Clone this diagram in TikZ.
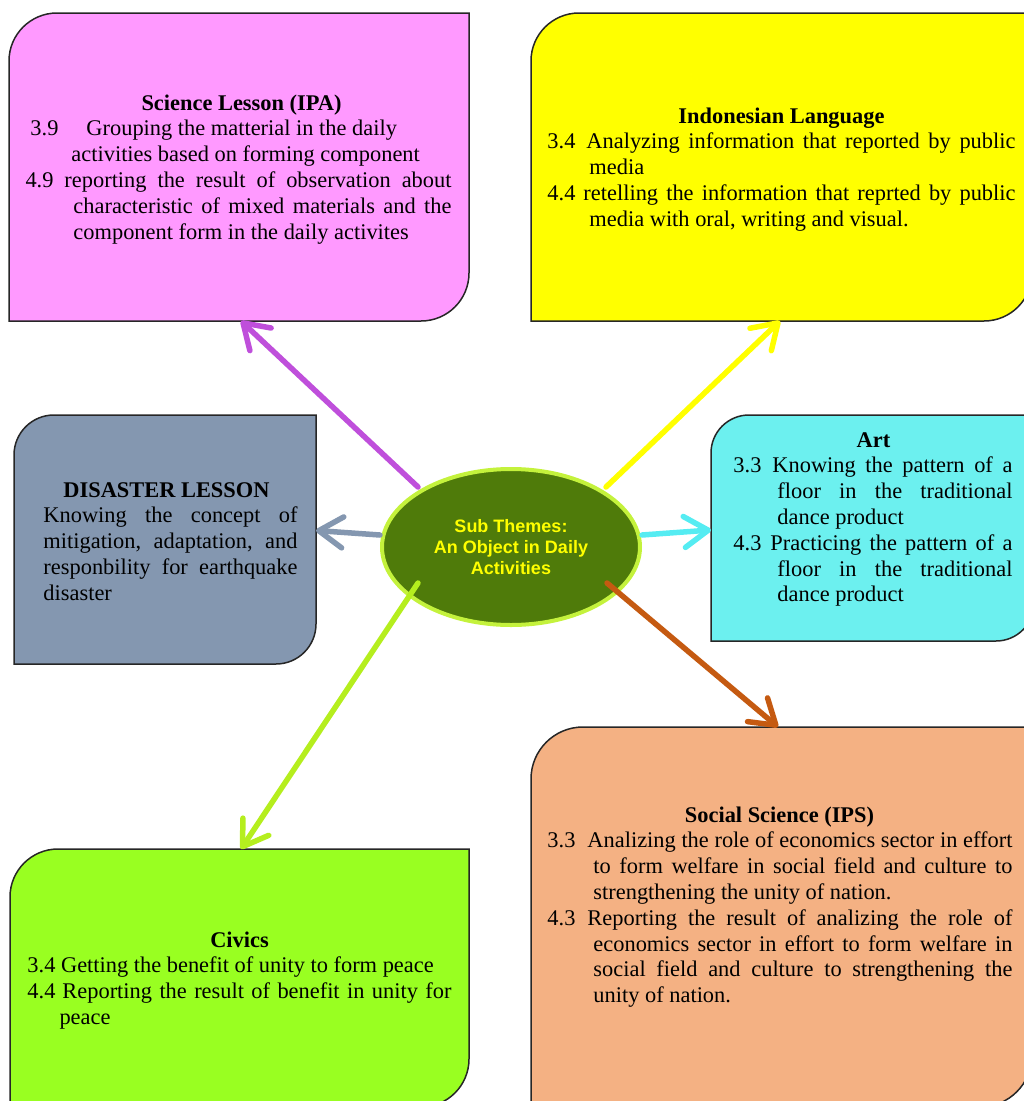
\documentclass[tikz,border=0pt]{standalone}
\usepackage{fontspec}
\setmainfont{Liberation Serif}
\newfontfamily\sansb{Liberation Sans}
\usetikzlibrary{arrows.meta,shapes.geometric,calc}

\definecolor{pinkc}{HTML}{FF99FF}
\definecolor{yelc}{HTML}{FFFF00}
\definecolor{grayc}{HTML}{8497B0}
\definecolor{cyanc}{HTML}{6CF0EF}
\definecolor{orc}{HTML}{F4B183}
\definecolor{grnc}{HTML}{99FF21}
\definecolor{apurple}{HTML}{BF4FDB}
\definecolor{ayellow}{HTML}{FFFF00}
\definecolor{agray}{HTML}{8497B0}
\definecolor{acyan}{HTML}{55ECF2}
\definecolor{aorange}{HTML}{C55A11}
\definecolor{agreen}{HTML}{B5EE1E}
\definecolor{ellb}{HTML}{C4F23C}
\definecolor{ellf}{HTML}{4F7B0A}
\definecolor{elltxt}{HTML}{FFFF00}

\newcommand\Sx{\rule[-7.8pt]{0pt}{25.8pt}}
\newcommand\At[2]{\rlap{\hspace*{#1pt}#2}}
\newcommand\Ct[2]{\rlap{\hspace*{#1pt}\makebox[0pt]{#2}}}
\newcommand\Jt[3]{\rlap{\hspace*{#1pt}\makebox[\dimexpr#2pt-#1pt\relax][s]{#3}}}

\newcommand\boxshape[3]{%
\path[boxline, fill=#3] (#1.south west) -- ([yshift=-#2pt]#1.north west)
 .. controls ([yshift={-0.4477*#2pt}]#1.north west) and ([xshift={0.4477*#2pt}]#1.north west) .. ([xshift=#2pt]#1.north west)
 -- (#1.north east) -- ([yshift=#2pt]#1.south east)
 .. controls ([yshift={0.4477*#2pt}]#1.south east) and ([xshift={-0.4477*#2pt}]#1.south east) .. ([xshift=-#2pt]#1.south east)
 -- cycle;}

\tikzset{
 anch/.style={rectangle, inner sep=0pt, outer sep=0pt, draw=none},
 boxline/.style={draw=black!85, line width=1.5pt},
 txt/.style={anchor=north west, inner sep=0pt, outer sep=0pt, align=left, font=\fontsize{22.4}{25.8}\selectfont},
 arr/.style={line width=5.5pt, line cap=round, -{Straight Barb[length=24pt,width=31pt,round]}},
}

\begin{document}
\begin{tikzpicture}[x=1pt, y=-1pt]
\useasboundingbox (0,0) rectangle (1024,1101);
\clip (0,0) rectangle (1024,1101);

% box frames (named)
\node[anch, minimum width=460pt, minimum height=308pt] (sci) at (239,167) {};
\node[anch, minimum width=501pt, minimum height=308pt] (ind) at (781.5,167) {};
\node[anch, minimum width=302pt, minimum height=249pt] (dis) at (165,539.5) {};
\node[anch, minimum width=323pt, minimum height=226pt] (art) at (872.5,528) {};
\node[anch, minimum width=501pt, minimum height=380pt] (soc) at (781.5,917) {};
\node[anch, minimum width=459pt, minimum height=258pt] (civ) at (239.5,978) {};

\boxshape{sci}{48}{pinkc}
\boxshape{ind}{48}{yelc}
\boxshape{dis}{40}{grayc}
\boxshape{art}{38}{cyanc}
\boxshape{soc}{52}{orc}
\boxshape{civ}{48}{grnc}

% texts
\node[txt] (scit) at (0,92) {\Sx\Ct{241}{\bfseries Science Lesson (IPA)}\\
\Sx\At{30}{3.9}\At{86}{Grouping the matterial in the daily}\\
\Sx\At{71}{activities based on forming component}\\
\Sx\At{25}{4.9}\Jt{64}{451}{reporting the result of observation about}\\
\Sx\Jt{73}{451}{characteristic of mixed materials and the}\\
\Sx\At{73}{component form in the daily activites}};

\node[txt] (indt) at (0,105) {\Sx\Ct{781}{\bfseries Indonesian Language}\\
\Sx\At{547}{3.4}\Jt{586}{1015}{Analyzing information that reported by public}\\
\Sx\At{589}{media}\\
\Sx\At{547}{4.4}\Jt{583}{1015}{retelling the information that reprted by public}\\
\Sx\At{589}{media with oral, writing and visual.}};

\node[txt] (dist) at (0,479) {\Sx\Ct{166}{\bfseries DISASTER LESSON}\\
\Sx\Jt{43}{297}{Knowing the concept of}\\
\Sx\Jt{43}{297}{mitigation, adaptation, and}\\
\Sx\Jt{43}{297}{responbility for earthquake}\\
\Sx\At{43}{disaster}};

\node[txt] (artt) at (0,429) {\Sx\Ct{873}{\bfseries Art}\\
\Sx\At{733}{3.3}\Jt{772}{1012}{Knowing the pattern of a}\\
\Sx\Jt{777}{1012}{floor in the traditional}\\
\Sx\At{777}{dance product}\\
\Sx\At{733}{4.3}\Jt{770}{1012}{Practicing the pattern of a}\\
\Sx\Jt{777}{1012}{floor in the traditional}\\
\Sx\At{777}{dance product}};

\node[txt] (soct) at (0,804) {\Sx\Ct{779}{\bfseries Social Science (IPS)}\\
\Sx\At{547}{3.3}\Jt{587}{1012}{Analizing the role of economics sector in effort}\\
\Sx\Jt{593}{1012}{to form welfare in social field and culture to}\\
\Sx\At{593}{strengthening the unity of nation.}\\
\Sx\At{547}{4.3}\Jt{587}{1012}{Reporting the result of analizing the role of}\\
\Sx\Jt{593}{1012}{economics sector in effort to form welfare in}\\
\Sx\Jt{593}{1012}{social field and culture to strengthening the}\\
\Sx\At{593}{unity of nation.}};

\node[txt] (civt) at (0,929) {\Sx\Ct{239}{\bfseries Civics}\\
\Sx\At{27}{3.4 Getting the benefit of unity to form peace}\\
\Sx\At{27}{4.4}\Jt{62}{451}{Reporting the result of benefit in unity for}\\
\Sx\At{59}{peace}};

% centre ellipse
\node[ellipse, draw=ellb, fill=ellf, line width=4pt, minimum width=258pt, minimum height=156pt,
      inner sep=0pt, align=center, text=elltxt,
      font=\sansb\bfseries\fontsize{18}{21}\selectfont] (sub) at (511,547)
      {Sub Themes:\\An Object in Daily\\Activities};

% connectors
\draw[arr, apurple] ($(sub)+(-93,-60)$) -- ([xshift=2pt]sci.south);
\draw[arr, ayellow] ($(sub)+(95,-60)$) -- ([xshift=-1.5pt]ind.south);
\draw[arr, agray] ($(sub)+(-131,-12)$) -- ([yshift=9pt]dis.east);
\draw[arr, acyan] ($(sub)+(131,-12)$) -- ([yshift=-2pt]art.west);
\draw[arr, aorange] ($(sub)+(96,36)$) -- ([xshift=-3.5pt]soc.north);
\draw[arr, agreen] ($(sub)+(-93,36)$) -- ([xshift=1.5pt]civ.north);
\end{tikzpicture}
\end{document}
